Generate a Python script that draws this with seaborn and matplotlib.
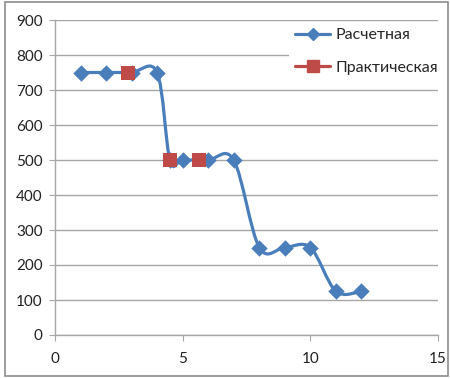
import numpy as np
import seaborn as sns
import matplotlib.pyplot as plt
from matplotlib.path import Path
from matplotlib.patches import PathPatch, Rectangle
from matplotlib.lines import Line2D

calc_x = [1, 2, 3, 4, 4.5, 5, 6, 7, 8, 9, 10, 11, 12]
calc_y = [750, 750, 750, 750, 500, 500, 500, 500, 250, 250, 250, 125, 125]
prac_x = [2.85, 4.5, 5.65]
prac_y = [750, 500, 500]
labels = ["Расчетная", "Практическая"]

blue = "#4A7EBB"
red = "#BE4B48"
grid = "#A6A6A6"

sns.set_style("white")
plt.rcParams['font.family'] = ['Lato', 'DejaVu Sans']

fig = plt.figure(figsize=(4.5, 3.79), dpi=100)
ax = fig.add_axes([55 / 450, 44 / 379, 383 / 450, 315 / 379])


def smooth_path(xs, ys):
    # Excel-style smoothed line: cubic Bezier, control points at 1/6 of neighbour span
    pts = np.column_stack([xs, ys]).astype(float)
    n = len(pts)
    verts = [pts[0]]
    codes = [Path.MOVETO]
    for i in range(n - 1):
        p0 = pts[i - 1] if i > 0 else pts[i]
        p1, p2 = pts[i], pts[i + 1]
        p3 = pts[i + 2] if i + 2 < n else pts[i + 1]
        verts += [p1 + (p2 - p0) / 6, p2 - (p3 - p1) / 6, p2]
        codes += [Path.CURVE4] * 3
    return Path(verts, codes)


ax.add_patch(PathPatch(smooth_path(calc_x, calc_y), facecolor="none",
                       edgecolor=blue, lw=2.3, zorder=3, capstyle="round"))
sns.scatterplot(x=calc_x, y=calc_y, marker="D", s=70, color=blue,
                edgecolor=blue, linewidth=0, zorder=4, ax=ax)
sns.scatterplot(x=prac_x, y=prac_y, marker="s", s=110, color=red,
                edgecolor=red, linewidth=0, zorder=5, ax=ax)

ax.set_xlim(0, 15)
ax.set_ylim(0, 900)
ax.set_xticks([0, 5, 10, 15])
ax.set_yticks(range(0, 901, 100))
ax.grid(axis="y", color=grid, lw=1)
ax.set_axisbelow(True)
for s in ["top", "right"]:
    ax.spines[s].set_visible(False)
for s in ["left", "bottom"]:
    ax.spines[s].set_color(grid)
    ax.spines[s].set_linewidth(1)
ax.tick_params(axis="both", which="both", direction="out", length=4,
               color=grid, labelsize=11, labelcolor="#222222")
ax.tick_params(axis="x", pad=8)
ax.tick_params(axis="y", pad=5)
ax.tick_params(left=True, bottom=True)

handles = [
    Line2D([], [], color=blue, lw=2.3, marker="D", markersize=6),
    Line2D([], [], color=red, lw=2.3, marker="s", markersize=8),
]
leg = ax.legend(handles, labels, loc="upper left", bbox_to_anchor=(0.59, 1.02),
                frameon=True, fontsize=11.5, handlelength=2.2, handletextpad=0.3,
                labelspacing=1.15, borderpad=0.4)
leg.get_frame().set_edgecolor("none")
leg.get_frame().set_facecolor("white")
leg.get_frame().set_alpha(1)

fig.patches.append(Rectangle((5 / 450, 3 / 379), 443 / 450, 374 / 379,
                             transform=fig.transFigure, fill=False,
                             edgecolor="#8C8C8C", lw=1.2))

fig.savefig("out.png", dpi=100)
